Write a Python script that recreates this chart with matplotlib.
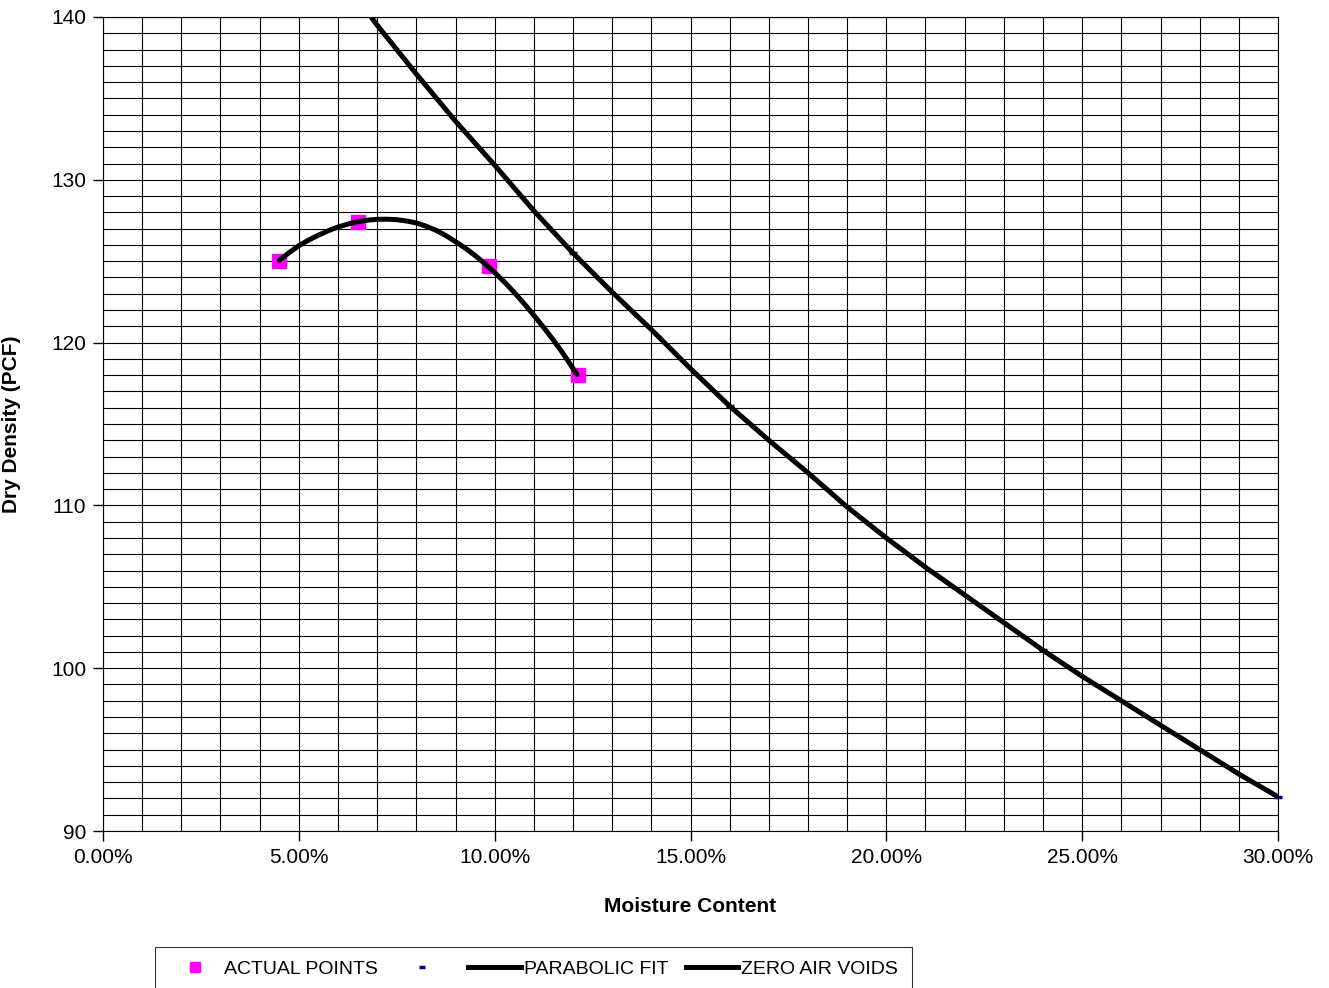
import matplotlib.pyplot as plt
from matplotlib.lines import Line2D
from matplotlib.ticker import MultipleLocator, FuncFormatter

plt.rcParams['font.family'] = ['Liberation Sans', 'DejaVu Sans']

# measured points
actual_w = [0.045, 0.065, 0.0985, 0.1213]
actual_d = [125.0, 127.4, 124.7, 118.0]

# parabolic fit
fit_w = [0.0450, 0.0475, 0.0500, 0.0525, 0.0550, 0.0575, 0.0600, 0.0625,
         0.0650, 0.0675, 0.0700, 0.0725, 0.0750, 0.0775, 0.0800, 0.0825,
         0.0850, 0.0875, 0.0900, 0.0925, 0.0950, 0.0975, 0.1000, 0.1025,
         0.1050, 0.1075, 0.1100, 0.1125, 0.1150, 0.1175, 0.1210]
fit_d = [125.05, 125.52, 125.95, 126.30, 126.60, 126.87, 127.10, 127.28,
         127.42, 127.52, 127.57, 127.58, 127.55, 127.47, 127.35, 127.15,
         126.90, 126.58, 126.20, 125.80, 125.35, 124.85, 124.30, 123.72,
         123.08, 122.40, 121.68, 120.93, 120.15, 119.32, 118.05]

# zero air voids line
zav_w = [0.06, 0.07, 0.08, 0.09, 0.10, 0.11, 0.12, 0.13, 0.14, 0.15, 0.16,
         0.17, 0.18, 0.19, 0.20, 0.21, 0.22, 0.23, 0.24, 0.25, 0.26, 0.27,
         0.28, 0.29, 0.30]
zav_d = [142.7, 139.5, 136.5, 133.6, 130.9, 128.1, 125.5, 123.1, 120.8,
         118.4, 116.1, 114.0, 112.0, 109.9, 108.0, 106.2, 104.5, 102.8,
         101.1, 99.5, 98.0, 96.5, 95.0, 93.5, 92.1]

# blank-named series (blue dashes)
dash_w = [0.12, 0.16, 0.24, 0.30]
dash_d = [125.5, 116.1, 101.1, 92.1]

magenta = '#FF00FF'
navy = '#000080'

fig = plt.figure(figsize=(13.29, 9.88), dpi=100)
ax = fig.add_axes([103/1329, 1 - 831/988, (1278-103)/1329, (831-17)/988])

ax.plot(zav_w, zav_d, color='black', lw=3.6, solid_capstyle='butt',
        solid_joinstyle='round', zorder=3)
ax.plot(fit_w, fit_d, color='black', lw=3.6, solid_capstyle='round',
        solid_joinstyle='round', zorder=4)
ax.plot(actual_w, actual_d, 's', color=magenta, ms=10, mec=magenta, zorder=3)
ax.plot(dash_w, dash_d, '_', color=navy, ms=6, mew=2.5, zorder=2, clip_on=False)

ax.set_xlim(0, 0.30)
ax.set_ylim(90, 140)
ax.xaxis.set_major_locator(MultipleLocator(0.05))
ax.xaxis.set_minor_locator(MultipleLocator(0.01))
ax.yaxis.set_major_locator(MultipleLocator(10))
ax.yaxis.set_minor_locator(MultipleLocator(1))
ax.xaxis.set_major_formatter(FuncFormatter(lambda v, p: '%.2f%%' % (v * 100)))

ax.grid(True, which='both', color='black', lw=0.8)
ax.set_axisbelow(True)
ax.tick_params(which='major', direction='out', length=7, width=1, labelsize=15, pad=5)
ax.tick_params(which='minor', length=0)
for s in ax.spines.values():
    s.set_color('black')
    s.set_linewidth(0.8)

ax.set_xlabel('Moisture Content', fontsize=15, fontweight='bold', labelpad=22)
ax.set_ylabel('Dry Density (PCF)', fontsize=15, fontweight='bold', labelpad=22)

handles = [
    Line2D([], [], marker='s', ls='none', color=magenta, ms=7),
    Line2D([], [], marker='_', ls='none', color=navy, ms=5, mew=2.5),
    Line2D([], [], color='black', lw=3.6),
    Line2D([], [], color='black', lw=3.6),
]
labels = ['ACTUAL POINTS', '', 'PARABOLIC FIT', 'ZERO AIR VOIDS']
leg = fig.legend(handles, labels, loc='upper left', bbox_to_anchor=(155/1329, 1 - 947/988),
                 ncol=4, fontsize=14, frameon=True, fancybox=False, edgecolor='black',
                 handlelength=2.7, handletextpad=0.15, columnspacing=0.9,
                 borderpad=0.7, borderaxespad=0)
leg.get_frame().set_linewidth(0.8)

fig.savefig('out.png', dpi=100)
